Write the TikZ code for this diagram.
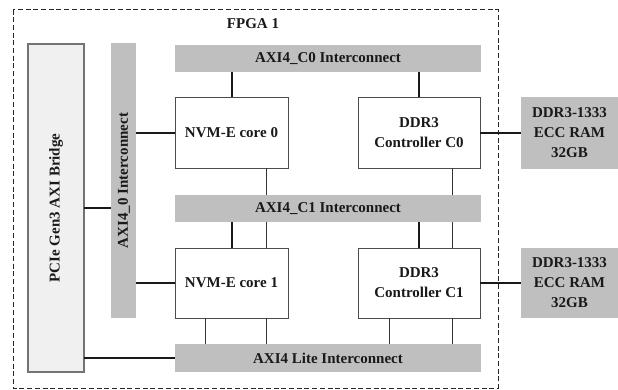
\documentclass[tikz,border=0pt]{standalone}
\usepackage{fontspec}
\setmainfont{Liberation Serif}
\begin{document}
\begin{tikzpicture}[x=1pt,y=-1pt,
  txt/.style={font=\fontsize{15}{20}\selectfont\bfseries, align=center, text=black!90},
  whitebox/.style={txt, draw=black!70, line width=0.9pt, fill=white, inner sep=0pt, outer sep=0pt},
  graybar/.style={txt, fill=black!25, inner sep=0pt, outer sep=0pt},
  bridgebox/.style={txt, draw=black!55, line width=1.2pt, fill=black!6, inner sep=0pt, outer sep=0pt},
  thickline/.style={line width=2pt, black!90},
  thinline/.style={line width=1pt, black!80},
  frame/.style={draw=black!85, line width=0.8pt, dash pattern=on 5pt off 2.7pt}]
\useasboundingbox (0,0) rectangle (618,389);
\draw[frame] (13,9.5) rectangle (498,388);
\node[txt] (fpga) at (253,24) {FPGA 1};

\node[bridgebox, minimum width=56pt, minimum height=328pt] (pcie) at (56,208) {};
\node[txt, rotate=90] (pciet) at (56,208) {PCIe Gen3 AXI Bridge};
\node[graybar, minimum width=25pt, minimum height=275pt] (axi0) at (123.5,180.5) {};
\node[txt, rotate=90] (axi0t) at (124,180.5) {AXI4\_0 Interconnect};

\node[graybar, minimum width=306pt, minimum height=27pt] (axic0) at (328,58.5) {AXI4\_C0 Interconnect};
\node[graybar, minimum width=306pt, minimum height=27pt] (axic1) at (328,208.5) {AXI4\_C1 Interconnect};
\node[graybar, minimum width=306pt, minimum height=28pt] (lite) at (328,358) {AXI4 Lite Interconnect};

\node[whitebox, minimum width=113pt, minimum height=71pt] (nvm0) at (231.5,132.5) {NVM-E core 0};
\node[whitebox, minimum width=122pt, minimum height=71pt] (ddr0) at (419,132.5) {DDR3\\Controller C0};
\node[whitebox, minimum width=113pt, minimum height=70pt] (nvm1) at (231.5,283) {NVM-E core 1};
\node[whitebox, minimum width=122pt, minimum height=70pt] (ddr1) at (419,283) {DDR3\\Controller C1};

\node[graybar, minimum width=97pt, minimum height=72pt] (ram0) at (569.5,133) {DDR3-1333\\ECC RAM\\32GB};
\node[graybar, minimum width=97pt, minimum height=70pt] (ram1) at (569.5,283) {DDR3-1333\\ECC RAM\\32GB};

\coordinate (x205) at (205,0);
\coordinate (x266) at (266,0);
\coordinate (x389) at (389,0);
\coordinate (x452) at (452,0);

% thick links
\draw[thickline] (axic0.south -| nvm0.north) -- (nvm0.north);
\draw[thickline] (axic0.south -| ddr0.north) -- (ddr0.north);
\draw[thickline] (axic1.south -| nvm1.north) -- (nvm1.north);
\draw[thickline] (axic1.south -| ddr1.north) -- (ddr1.north);
\draw[thickline] (axi0.east |- nvm0.west) -- (nvm0.west);
\draw[thickline] (axi0.east |- nvm1.west) -- (nvm1.west);
\draw[thickline] (pcie.east) -- (axi0.west |- pcie.east);
\draw[thickline] (pcie.east |- lite.west) -- (lite.west);
\draw[thickline] (ddr0.east) -- (ram0.west |- ddr0.east);
\draw[thickline] (ddr1.east) -- (ram1.west |- ddr1.east);

% thin links
\draw[thinline] (nvm0.south -| x266) -- (axic1.north -| x266);
\draw[thinline] (ddr0.south -| x452) -- (axic1.north -| x452);
\draw[thinline] (axic1.south -| x266) -- (nvm1.north -| x266);
\draw[thinline] (axic1.south -| x452) -- (ddr1.north -| x452);
\draw[thinline] (nvm1.south -| x205) -- (lite.north -| x205);
\draw[thinline] (nvm1.south -| x266) -- (lite.north -| x266);
\draw[thinline] (ddr1.south -| x389) -- (lite.north -| x389);
\draw[thinline] (ddr1.south -| x452) -- (lite.north -| x452);
\end{tikzpicture}
\end{document}
